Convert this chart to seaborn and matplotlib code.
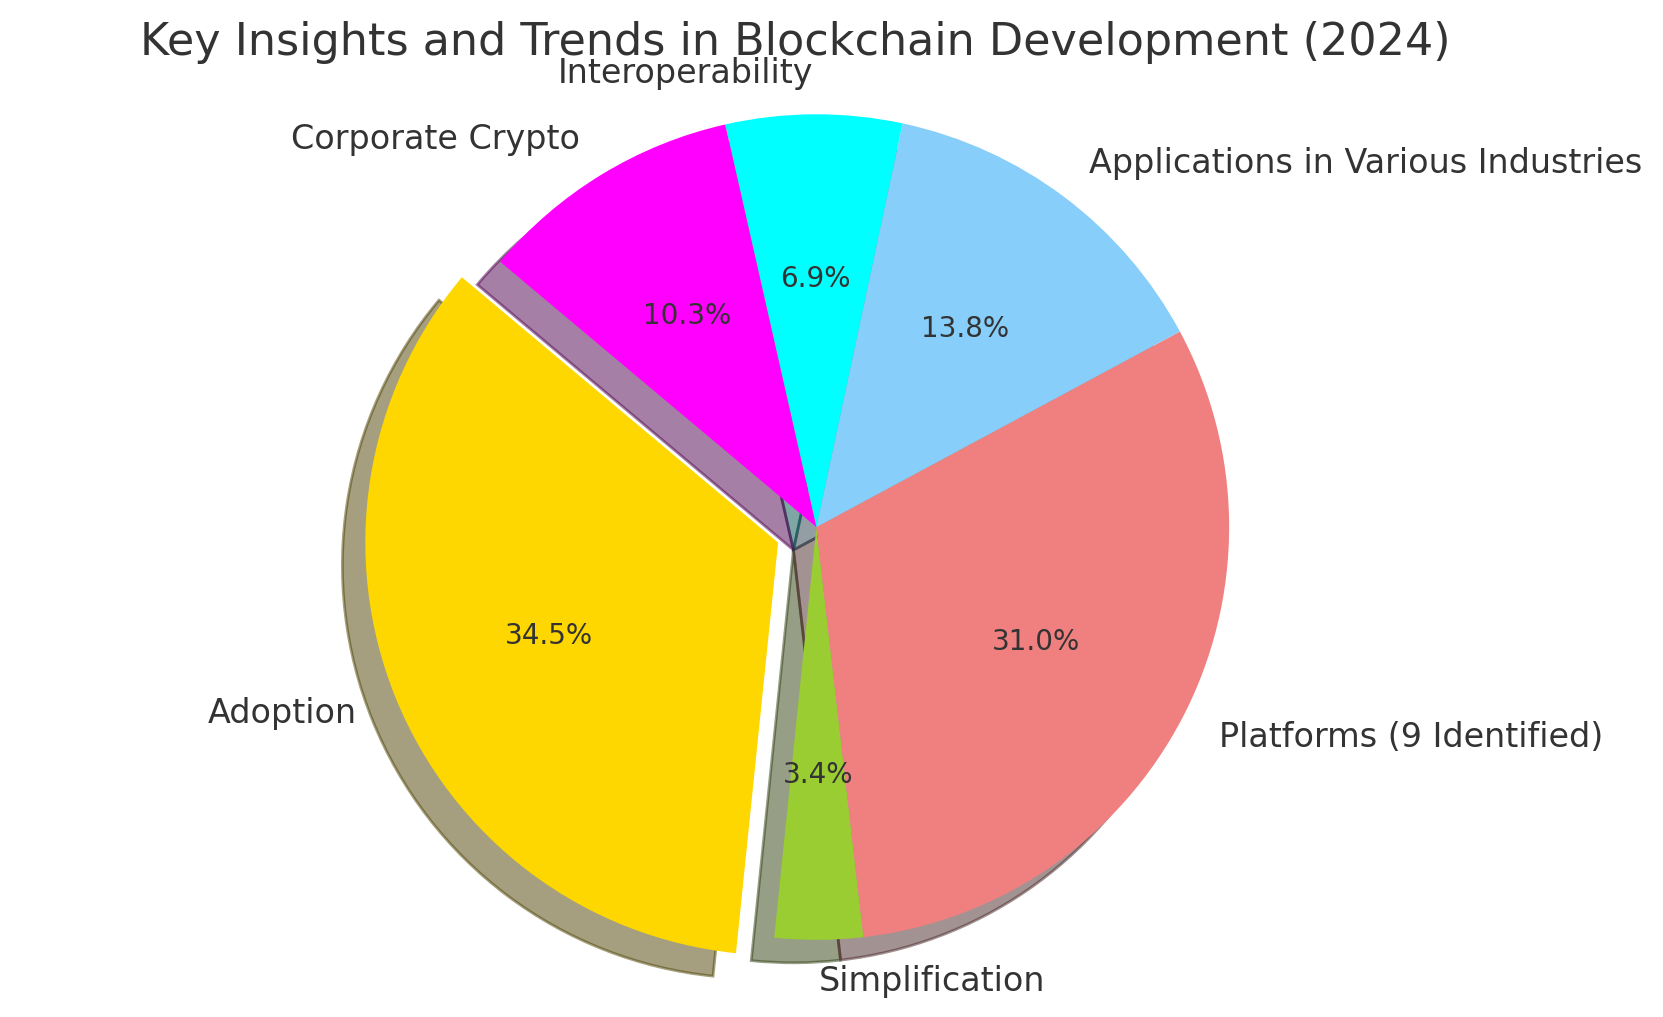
import matplotlib
matplotlib.use("Agg")
import matplotlib.pyplot as plt
import seaborn as sns

# slices in drawing order (counter-clockwise from startangle)
labels = ["Adoption", "Simplification", "Platforms (9 Identified)",
          "Applications in Various Industries", "Interoperability", "Corporate Crypto"]
counts = [10, 1, 9, 4, 2, 3]
colors = ["gold", "yellowgreen", "lightcoral", "lightskyblue", "cyan", "magenta"]
explode = [0.1, 0, 0, 0, 0, 0]
title = "Key Insights and Trends in Blockchain Development (2024)"

sns.set_theme(style="white")
plt.rcParams.update({
    "font.family": ["DejaVu Sans"],
    "text.color": "#333333",
    "patch.force_edgecolor": False,
})

fig = plt.figure(figsize=(8.315, 5.085), dpi=200)
ax = fig.add_axes([0.1806, -0.0256, 0.6206, 1.0147])

wedges, texts, autotexts = ax.pie(
    counts, labels=labels, colors=colors, explode=explode,
    autopct="%1.1f%%", startangle=140, shadow=True,
    textprops={"fontsize": 12, "color": "#333333"},
)
for t in autotexts:
    t.set_fontsize(10)
ax.set_xlim(-1.25, 1.25)
ax.set_ylim(-1.25, 1.25)
ax.set_aspect("equal", adjustable="box")

fig.text(0.478, 1 - 55 / 1017, title, fontsize=16, ha="center", va="baseline",
         color="#333333")

fig.savefig("out.png", dpi=200)
